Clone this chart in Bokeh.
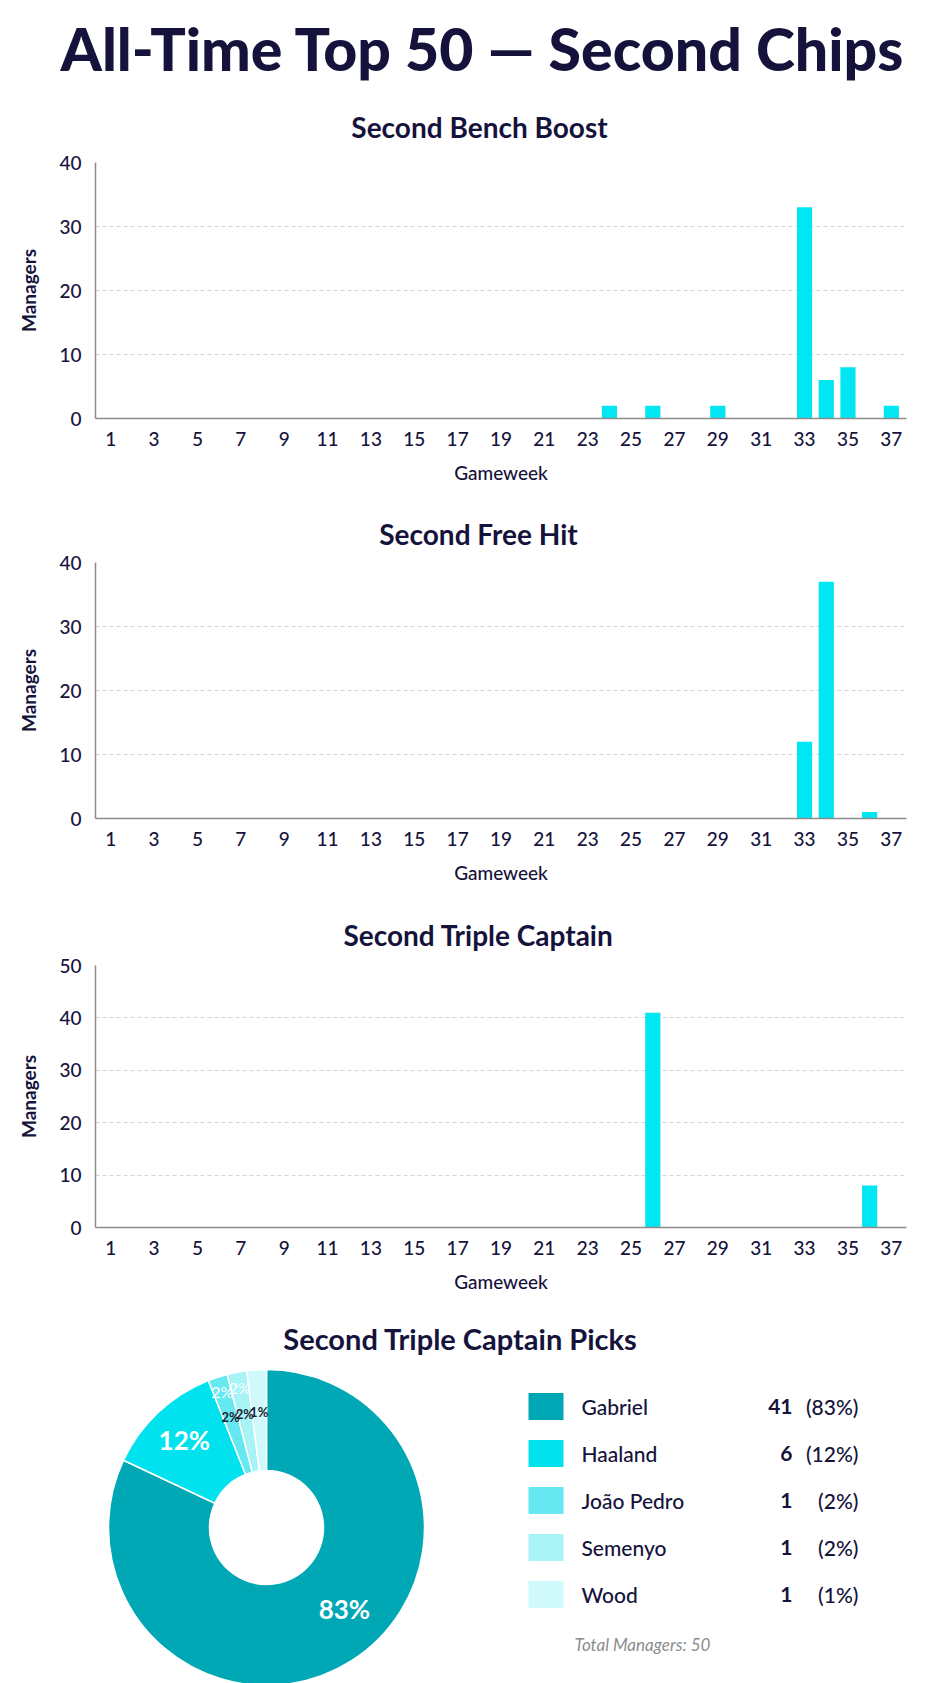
import math
from bokeh.plotting import figure
from bokeh.models import Range1d, FixedTicker, ColumnDataSource
from bokeh.layouts import column
from bokeh.embed import file_html
from bokeh.resources import INLINE
from bokeh.core.properties import value

# ---------------- data ----------------
main_title = "All-Time Top 50 — Second Chips"
gw_ticks = list(range(1, 38, 2))

bb_title = "Second Bench Boost"
bb_gw = [24, 26, 29, 33, 34, 35, 37]
bb_count = [2, 2, 2, 33, 6, 8, 2]
bb_yticks = [0, 10, 20, 30, 40]

fh_title = "Second Free Hit"
fh_gw = [33, 34, 36]
fh_count = [12, 37, 1]
fh_yticks = [0, 10, 20, 30, 40]

tc_title = "Second Triple Captain"
tc_gw = [26, 36]
tc_count = [41, 8]
tc_yticks = [0, 10, 20, 30, 40, 50]

pie_title = "Second Triple Captain Picks"
tc_players = ["Gabriel", "Haaland", "João Pedro", "Semenyo", "Wood"]
tc_picks = [41, 6, 1, 1, 1]
tc_pct_labels = ["83%", "12%", "2%", "2%", "1%"]
tc_pct_legend = ["(83%)", "(12%)", "(2%)", "(2%)", "(1%)"]
total_label = "Total Managers: 50"

# ---------------- style ----------------
NAVY = "#15133c"
BAR = "#00e6f3"
PIE_COLORS = ["#00a8b5", "#00e3ef", "#66e8f0", "#a8f3f6", "#cff9fb"]
FONT = "Lato"
FONT_MED = "Lato Medium, Lato"
W = 935
FL, FR = 95, 906          # frame left / right in page pixels


def blank(height, top=0):
    f = figure(width=W, height=height, x_range=Range1d(FL, FR), y_range=Range1d(0, height - top),
               toolbar_location=None, output_backend="svg",
               min_border_left=FL, min_border_right=W - FR,
               min_border_top=top, min_border_bottom=0,
               x_axis_type=None, y_axis_type=None)
    f.grid.visible = False
    f.outline_line_color = None
    return f


# header (title panel, not clipped by the frame)
head = blank(100, top=88)
head.title.text = main_title
head.title.align = "left"
head.title.offset = 60 - FL
head.title.standoff = 10
head.title.text_font = "Lato Black, Lato"
head.title.text_font_size = "59px"
head.title.text_font_style = "bold"
head.title.text_color = NAVY


def band(title, height, cap_center_from_bottom, cx):
    b = blank(height)
    b.text(x=[cx], y=[cap_center_from_bottom], text=[title], text_font=value(FONT),
           text_font_size="28px", text_font_style="bold", text_color=NAVY,
           text_align="center", text_baseline="middle")
    return b


def bar_chart(gws, counts, ymax, yticks, height, top, bottom):
    p = figure(width=W, height=height, x_range=Range1d(0.3, 37.7), y_range=Range1d(0, ymax),
               toolbar_location=None, output_backend="svg",
               min_border_left=FL, min_border_right=W - FR,
               min_border_top=top, min_border_bottom=bottom)
    src = ColumnDataSource(dict(gw=gws, n=counts))
    p.vbar(x="gw", top="n", width=0.7, bottom=0, source=src, fill_color=BAR, line_color=None)

    p.outline_line_color = None
    p.xgrid.visible = False
    p.ygrid.grid_line_color = "#d4d4d4"
    p.ygrid.grid_line_dash = "4 3"
    p.ygrid.grid_line_width = 1
    p.yaxis.ticker = FixedTicker(ticks=yticks)
    p.xaxis.ticker = FixedTicker(ticks=gw_ticks)
    for ax in (p.xaxis[0], p.yaxis[0]):
        ax.major_tick_line_color = None
        ax.minor_tick_line_color = None
        ax.major_tick_out = 0
        ax.major_tick_in = 0
        ax.axis_line_color = "#8c8c8c"
        ax.axis_line_width = 1.5
        ax.major_label_text_font = FONT_MED
        ax.major_label_text_font_size = "19px"
        ax.major_label_text_color = NAVY
        ax.axis_label_text_font = FONT_MED
        ax.axis_label_text_color = NAVY
        ax.axis_label_text_font_size = "19px"
    p.yaxis.axis_label = "Managers"
    p.yaxis.axis_label_text_font = FONT
    p.yaxis.axis_label_text_font_style = "bold"
    p.yaxis.major_label_standoff = 14
    p.yaxis.axis_label_standoff = 16
    p.xaxis.axis_label = "Gameweek"
    p.xaxis.axis_label_text_font_style = "normal"
    p.xaxis.major_label_standoff = 13
    p.xaxis.axis_label_standoff = 12
    return p


b1 = band(bb_title, 50, 24, 479)
p1 = bar_chart(bb_gw, bb_count, 40, bb_yticks, 355, 12, 87)
b2 = band(fh_title, 45, 17, 478)
p2 = bar_chart(fh_gw, fh_count, 40, fh_yticks, 355, 12, 87)
b3 = band(tc_title, 48, 18.5, 478)
p3 = bar_chart(tc_gw, tc_count, 50, tc_yticks, 357, 12, 83)

# ---------------- donut + legend ----------------
H4 = 373
pie = blank(H4)
pie.text(x=[460], y=[H4 - 28], text=[pie_title], text_font=value(FONT), text_font_size="29px",
         text_font_style="bold", text_color=NAVY, text_align="center", text_baseline="middle")

cx, cy, r_in, r_out = 266, 156, 57, 158
total = sum(tc_picks)
starts, ends, mids = [], [], []
cum = 0
for v in tc_picks:
    a0 = math.pi / 2 - 2 * math.pi * cum / total
    a1 = math.pi / 2 - 2 * math.pi * (cum + v) / total
    starts.append(a1)
    ends.append(a0)
    mids.append((a0 + a1) / 2)
    cum += v
wsrc = ColumnDataSource(dict(start=starts, end=ends, color=PIE_COLORS, name=tc_players))
pie.annular_wedge(x=cx, y=cy, inner_radius=r_in, outer_radius=r_out, start_angle="start",
                  end_angle="end", fill_color="color", line_color="white", line_width=1.5,
                  source=wsrc)

big_x, big_y, big_t = [], [], []
out_x, out_y, out_t = [], [], []
in_x, in_y, in_t = [], [], []
for i, (m, lab) in enumerate(zip(mids, tc_pct_labels)):
    frac = tc_picks[i] / total
    if frac >= 0.5:
        a, r = m + 0.195, 113
        big_x.append(cx + r * math.cos(a)); big_y.append(cy + r * math.sin(a)); big_t.append(lab)
    elif frac >= 0.05:
        big_x.append(cx + 120 * math.cos(m)); big_y.append(cy + 120 * math.sin(m)); big_t.append(lab)
    else:
        if i < len(tc_picks) - 1:
            out_x.append(cx + 143 * math.cos(m)); out_y.append(cy + 143 * math.sin(m)); out_t.append(lab)
        in_x.append(cx + 116 * math.cos(m)); in_y.append(cy + 116 * math.sin(m)); in_t.append(lab)

pie.text(x=big_x, y=big_y, text=big_t, text_font=value(FONT), text_font_size="26px",
         text_font_style="bold", text_color="white", text_align="center", text_baseline="middle")
pie.text(x=out_x, y=out_y, text=out_t, text_font=value(FONT), text_font_size="16px",
         text_color="white", text_align="center", text_baseline="middle")
pie.text(x=in_x, y=in_y, text=in_t, text_font=value(FONT), text_font_size="13px",
         text_font_style="bold", text_color="#1d1d33", text_align="center", text_baseline="middle")

ly = [277 - 47 * i for i in range(len(tc_players))]
pie.rect(x=[545.5] * len(ly), y=ly, width=35, height=27, fill_color=PIE_COLORS, line_color=None)
pie.text(x=[581] * len(ly), y=ly, text=tc_players, text_font=value(FONT_MED), text_font_size="21px",
         text_color=NAVY, text_align="left", text_baseline="middle")
pie.text(x=[792] * len(ly), y=ly, text=[str(v) for v in tc_picks], text_font=value(FONT),
         text_font_size="21px", text_font_style="bold", text_color=NAVY,
         text_align="right", text_baseline="middle")
pie.text(x=[858] * len(ly), y=ly, text=tc_pct_legend, text_font=value(FONT_MED),
         text_font_size="21px", text_color=NAVY, text_align="right", text_baseline="middle")
pie.text(x=[574], y=[39], text=[total_label], text_font=value(FONT), text_font_size="17px",
         text_font_style="italic", text_color="#8c8c8c", text_align="left",
         text_baseline="middle")

layout = column(head, b1, p1, b2, p2, b3, p3, pie, spacing=0)
open("out.html", "w").write(file_html(layout, INLINE))
